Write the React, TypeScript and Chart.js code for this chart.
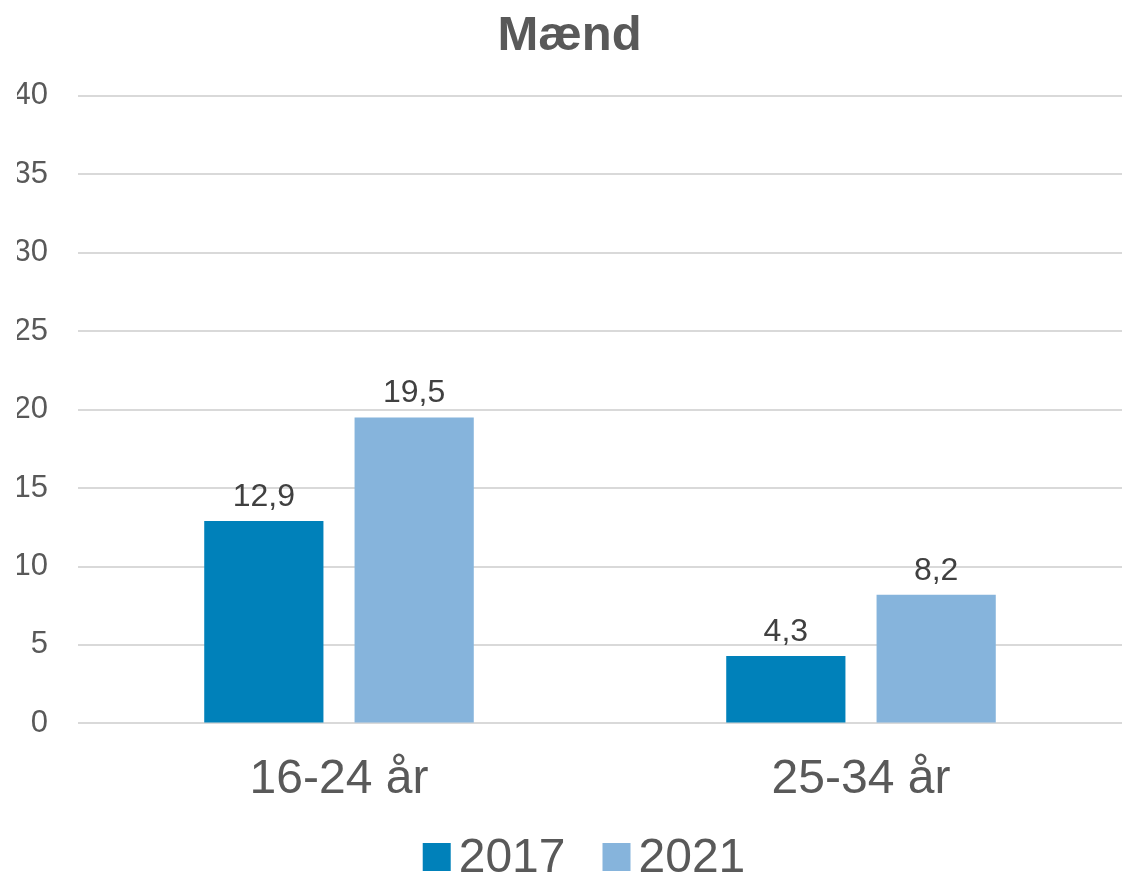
import React, { useEffect, useRef } from "react";
import { Chart, registerables } from "chart.js";

Chart.register(...registerables);

const categories = ["16-24 år", "25-34 år"];
const seriesNames = ["2017", "2021"];
const values2017 = [12.9, 4.3];
const values2021 = [19.5, 8.2];
const yTicks = [0, 5, 10, 15, 20, 25, 30, 35, 40];

const colors = ["#0081BA", "#86B4DC"];
const textGray = "#595959";
const fontFamily = "'Liberation Sans', Arial, sans-serif";

// Value labels above each bar, Danish decimal comma
const valueLabels = {
  id: "valueLabels",
  afterDatasetsDraw(chart: any) {
    const ctx = chart.ctx;
    ctx.save();
    ctx.font = `32px ${fontFamily}`;
    ctx.fillStyle = "#404040";
    ctx.textAlign = "center";
    ctx.textBaseline = "bottom";
    chart.data.datasets.forEach((ds: any, i: number) => {
      const meta = chart.getDatasetMeta(i);
      meta.data.forEach((bar: any, j: number) => {
        const v = ds.data[j] as number;
        ctx.fillText(v.toFixed(1).replace(".", ","), bar.x, bar.y - 8);
      });
    });
    ctx.restore();
  },
};

// Legend row under the axis labels: square swatch, tight gap, wide spacing between items
const bottomLegend = {
  id: "bottomLegend",
  afterDraw(chart: any) {
    const ctx = chart.ctx;
    const box = 28;
    const textGap = 8;
    const itemGap = 37;
    ctx.save();
    ctx.font = `48px ${fontFamily}`;
    const widths = chart.data.datasets.map((ds: any) => ctx.measureText(ds.label).width);
    const total =
      widths.reduce((a: number, w: number) => a + box + textGap + w, 0) + itemGap * (widths.length - 1);
    const area = chart.chartArea;
    const cy = chart.height - 18;
    let x = (area.left + area.right) / 2 - 16 - total / 2;
    ctx.textBaseline = "middle";
    ctx.textAlign = "left";
    chart.data.datasets.forEach((ds: any, i: number) => {
      ctx.fillStyle = ds.backgroundColor;
      ctx.fillRect(x, cy - box / 2, box, box);
      ctx.fillStyle = textGray;
      ctx.fillText(ds.label, x + box + textGap, cy + 2);
      x += box + textGap + widths[i] + itemGap;
    });
    ctx.restore();
  },
};

export default function App() {
  const ref = useRef<HTMLCanvasElement | null>(null);

  useEffect(() => {
    if (!ref.current) return;
    const chart = new Chart(ref.current, {
      type: "bar",
      data: {
        labels: categories,
        datasets: [
          { label: seriesNames[0], data: values2017, backgroundColor: colors[0] },
          { label: seriesNames[1], data: values2021, backgroundColor: colors[1] },
        ],
      },
      options: {
        animation: false,
        responsive: false,
        maintainAspectRatio: false,
        layout: { padding: { top: 7, left: 17, right: 0, bottom: 46 } },
        datasets: {
          bar: { categoryPercentage: 0.576, barPercentage: 0.793 },
        },
        plugins: {
          title: {
            display: true,
            text: "Mænd",
            color: textGray,
            font: { family: fontFamily, size: 49, weight: "bold" },
            padding: { top: 0, bottom: 30 },
          },
          legend: { display: false },
          tooltip: { enabled: false },
        },
        scales: {
          x: {
            grid: { display: false },
            border: { display: false },
            ticks: {
              color: textGray,
              font: { family: fontFamily, size: 48 },
              padding: 20,
            },
          },
          y: {
            min: 0,
            max: 40,
            afterBuildTicks: (scale: any) => {
              scale.ticks = yTicks.map((v) => ({ value: v }));
            },
            afterFit: (scale: any) => {
              scale.width = 61;
            },
            grid: { color: "#D9D9D9", lineWidth: 2, drawTicks: false },
            border: { display: false },
            ticks: {
              color: textGray,
              font: { family: fontFamily, size: 31 },
              padding: 30,
            },
          },
        },
      },
      plugins: [valueLabels, bottomLegend],
    });
    return () => chart.destroy();
  }, []);

  return (
    <div style={{ position: "fixed", left: 0, top: 0, width: 1122, height: 875, background: "#fff" }}>
      <canvas ref={ref} width={1122} height={875} />
    </div>
  );
}
